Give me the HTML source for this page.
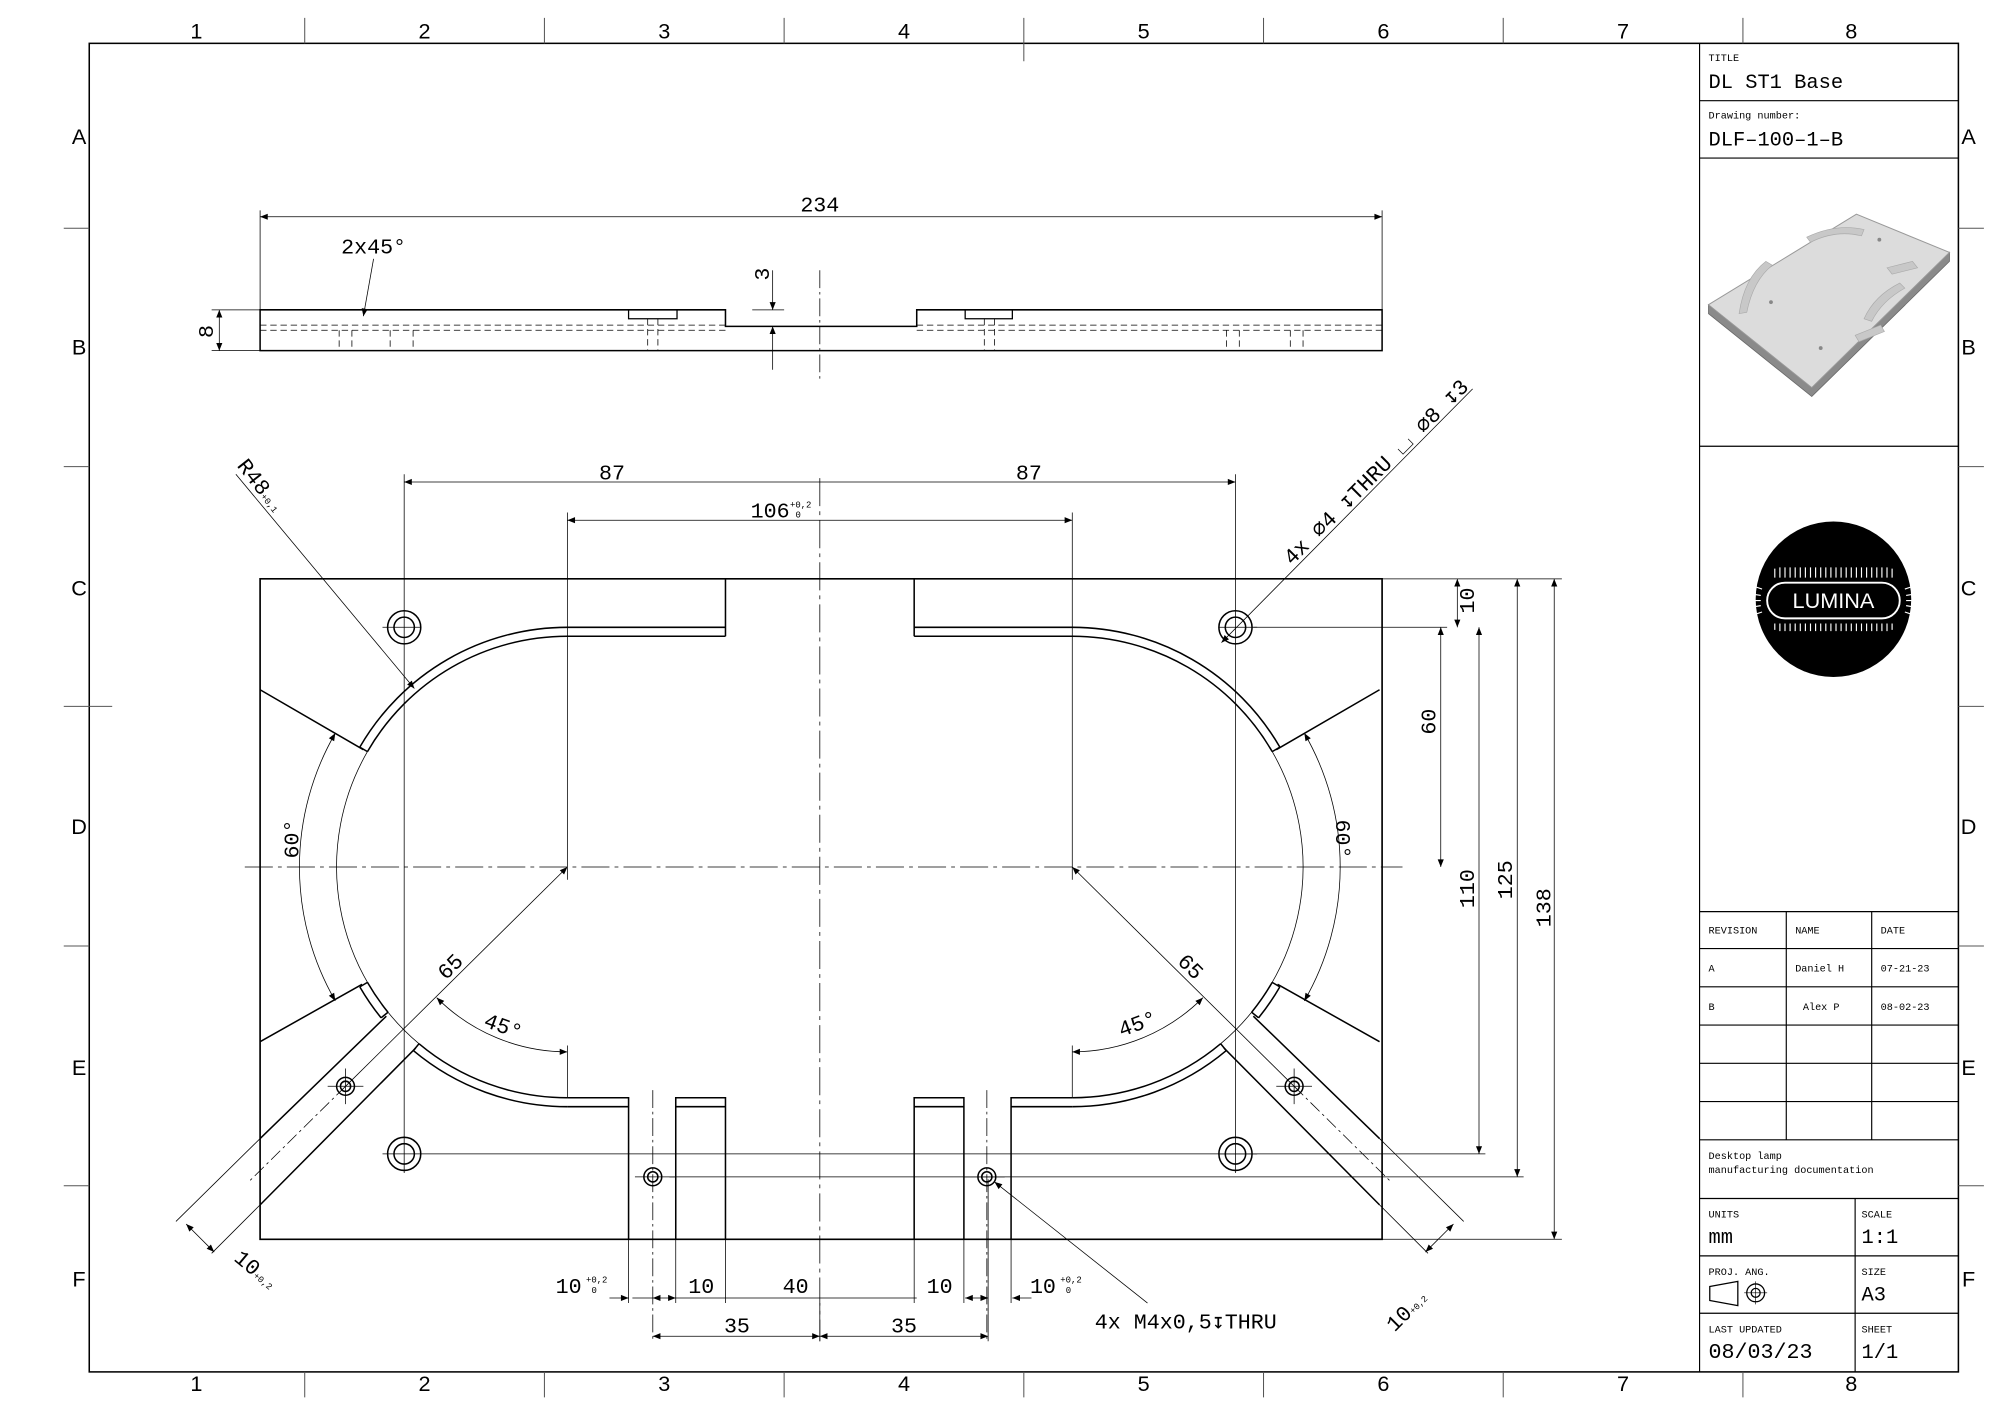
<!DOCTYPE html>
<html><head><meta charset="utf-8"><style>html,body{margin:0;padding:0;background:#fff}svg{display:block}</style></head>
<body>
<svg width="1999" height="1416" viewBox="0 0 1999 1416" xmlns="http://www.w3.org/2000/svg">
<defs>
<marker id="a" viewBox="0 0 10 10" refX="10" refY="5" markerWidth="9" markerHeight="6" orient="auto-start-reverse" markerUnits="userSpaceOnUse"><path d="M0,1 L10,5 L0,9 z" fill="#000"/></marker>
</defs>
<rect width="1999" height="1416" fill="#fff"/>
<g transform="scale(1.275)" fill="none" stroke="#000" font-family="Liberation Mono, monospace">
<!-- frame -->
<rect x="70" y="34" width="1466" height="1042" stroke-width="1.2"/>
<g stroke-width="0.8" stroke="#555">
<path d="M239,14V34M427,14V34M615,14V34M803,14V48M991,14V34M1179,14V34M1367,14V34"/>
<path d="M239,1076V1096M427,1076V1096M615,1076V1096M803,1076V1096M991,1076V1096M1179,1076V1096M1367,1076V1096"/>
<path d="M50,179H70M50,366H70M50,554H88M50,742H70M50,930H70"/>
<path d="M1536,179H1556M1536,366H1556M1536,554H1556M1536,742H1556M1536,930H1556"/>
</g>
<g font-family="Liberation Sans, sans-serif" font-size="17" fill="#000" stroke="none" text-anchor="middle">
<text x="154" y="30">1</text><text x="333" y="30">2</text><text x="521" y="30">3</text><text x="709" y="30">4</text><text x="897" y="30">5</text><text x="1085" y="30">6</text><text x="1273" y="30">7</text><text x="1452" y="30">8</text>
<text x="154" y="1091">1</text><text x="333" y="1091">2</text><text x="521" y="1091">3</text><text x="709" y="1091">4</text><text x="897" y="1091">5</text><text x="1085" y="1091">6</text><text x="1273" y="1091">7</text><text x="1452" y="1091">8</text>
<text x="62" y="113">A</text><text x="62" y="278">B</text><text x="62" y="467">C</text><text x="62" y="654">D</text><text x="62" y="843">E</text><text x="62" y="1009">F</text>
<text x="1544" y="113">A</text><text x="1544" y="278">B</text><text x="1544" y="467">C</text><text x="1544" y="654">D</text><text x="1544" y="843">E</text><text x="1544" y="1009">F</text>
</g>

<!-- title block -->
<g stroke-width="0.9">
<path d="M1333,34V1076M1333,79H1536M1333,124H1536M1333,350H1536M1333,715H1536M1333,744H1536M1333,774H1536M1333,804H1536M1333,834H1536M1333,864H1536M1333,894H1536M1333,940H1536M1333,985H1536M1333,1030H1536M1401,715V894M1468,715V894M1455,940V1076"/>
</g>
<g fill="#000" stroke="none">
<text x="1340" y="48" font-size="8">TITLE</text>
<text x="1340" y="69" font-size="16">DL ST1 Base</text>
<text x="1340" y="93" font-size="8">Drawing number:</text>
<text x="1340" y="114" font-size="16">DLF–100–1–B</text>
<text x="1340" y="732" font-size="8">REVISION</text><text x="1408" y="732" font-size="8">NAME</text><text x="1475" y="732" font-size="8">DATE</text>
<text x="1340" y="762" font-size="8">A</text><text x="1408" y="762" font-size="8">Daniel H</text><text x="1475" y="762" font-size="8">07-21-23</text>
<text x="1340" y="792" font-size="8">B</text><text x="1414" y="792" font-size="8">Alex P</text><text x="1475" y="792" font-size="8">08-02-23</text>
<text x="1340" y="909" font-size="8">Desktop lamp</text><text x="1340" y="920" font-size="8">manufacturing documentation</text>
<text x="1340" y="955" font-size="8">UNITS</text><text x="1340" y="975" font-size="16">mm</text>
<text x="1460" y="955" font-size="8">SCALE</text><text x="1460" y="975" font-size="16">1:1</text>
<text x="1340" y="1000" font-size="8">PROJ. ANG.</text>
<text x="1460" y="1000" font-size="8">SIZE</text><text x="1460" y="1020" font-size="16">A3</text>
<text x="1340" y="1045" font-size="8">LAST UPDATED</text><text x="1340" y="1065" font-size="17">08/03/23</text>
<text x="1460" y="1045" font-size="8">SHEET</text><text x="1460" y="1065" font-size="16">1/1</text>
</g>
<g stroke-width="1"><path d="M1341,1009L1363,1005V1024L1341,1020Z"/><circle cx="1377" cy="1014" r="7"/><circle cx="1377" cy="1014" r="3.5"/><path d="M1368,1014H1386M1377,1005V1023" stroke-width="0.5"/></g>

<!-- thumbnail -->
<path d="M1340,239L1340,246L1421,311L1529,205L1529,198L1421,304Z" fill="#8a8a8a" stroke="#666" stroke-width="0.6"/>
<path d="M1340,239L1456,168L1529,198L1421,304Z" fill="#dcdcdc" stroke="#999" stroke-width="0.8"/>
<path d="M1370,245Q1375,220 1390,208L1385,205Q1368,218 1364,246Z M1420,190Q1440,180 1460,185L1462,180Q1440,175 1417,186Z M1462,250Q1470,232 1490,222L1494,226Q1476,236 1468,252Z M1480,210L1500,205L1504,210L1484,215Z M1455,263L1475,255L1478,260L1458,268Z" fill="#c8c8c8" stroke="#aaa" stroke-width="0.5"/>
<circle cx="1389" cy="237" r="1.5" fill="#888" stroke="none"/><circle cx="1474" cy="188" r="1.5" fill="#888" stroke="none"/><circle cx="1428" cy="273" r="1.5" fill="#888" stroke="none"/>

<!-- logo -->
<ellipse cx="1438" cy="470" rx="61" ry="61" fill="#000" stroke="none"/>
<rect x="1386" y="457" width="104" height="28" rx="14" stroke="#fff" stroke-width="1.5"/>
<g stroke="#fff" stroke-width="0.9">
<path d="M1392,453V446M1396,453V445M1400,453V445M1404,453V445M1408,453V445M1412,453V445M1416,453V445M1420,453V445M1424,453V445M1428,453V445M1432,453V445M1436,453V445M1440,453V445M1444,453V445M1448,453V445M1452,453V445M1456,453V445M1460,453V445M1464,453V445M1468,453V445M1472,453V445M1476,453V445M1480,453V445M1484,453V446"/>
<path d="M1392,489V494M1396,489V495M1400,489V495M1404,489V495M1408,489V495M1412,489V495M1416,489V495M1420,489V495M1424,489V495M1428,489V495M1432,489V495M1436,489V495M1440,489V495M1444,489V495M1448,489V495M1452,489V495M1456,489V495M1460,489V495M1464,489V495M1468,489V495M1472,489V495M1476,489V495M1480,489V495M1484,489V494"/>
<path d="M1382,462L1376,460M1381,467L1375,466M1381,471H1375M1381,475L1375,476M1382,480L1376,482M1494,462L1500,460M1495,467L1501,466M1495,471H1501M1495,475L1501,476M1494,480L1500,482"/>
</g>
<text x="1438" y="477" font-family="Liberation Sans, sans-serif" font-size="17" fill="#fff" stroke="none" text-anchor="middle">LUMINA</text>

<!-- TOP (side) VIEW -->
<path d="M204,243H569V256H719V243H1084V275H204Z" stroke-width="1.2"/>
<path d="M493,243V250H531V243M757,243V250H794V243" stroke-width="1"/>
<g stroke-width="0.6" stroke-dasharray="5,3">
<path d="M204,255H569M719,255H1084M204,259H569M719,259H1084"/>
<path d="M266,259V275M276,259V275M306,259V275M324,259V275M508,250V275M516,250V275M772,250V275M780,250V275M962,259V275M972,259V275M1012,259V275M1022,259V275"/>
</g>
<path d="M643,212V300" stroke-width="0.6" stroke-dasharray="14,3,2,3"/>
<g stroke-width="0.6">
<path d="M204,165V243M1084,165V243"/>
<path d="M204,170H1084" marker-start="url(#a)" marker-end="url(#a)"/>
<path d="M166,243H204M166,275H204"/>
<path d="M172,243V275" marker-start="url(#a)" marker-end="url(#a)"/>
<path d="M590,243H615M590,256H615"/>
<path d="M606,212V243" marker-end="url(#a)"/><path d="M606,290V256" marker-end="url(#a)"/>
<path d="M293,203L285,248" marker-end="url(#a)"/>
</g>
<g fill="#000" stroke="none" font-size="17" text-anchor="middle">
<text x="643" y="166">234</text>
<text x="293" y="199">2x45°</text>
<text transform="translate(167,260) rotate(-90)">8</text>
<text transform="translate(603,215) rotate(-90)">3</text>
</g>

<!-- MAIN VIEW -->
<path d="M204,454H1084V972H204Z" stroke-width="1.3"/>
<g id="half" stroke-width="1.2">
<path d="M569,454V499M445,492H569M445,499H569"/>
<path d="M445,492A188,188 0 0 0 282.2,586M445,499A181,181 0 0 0 288.2,589.5M282.2,586L288.2,589.5"/>
<path d="M288.2,589.5A181,181 0 0 0 328.6,818.6" stroke-width="0.6"/>
<path d="M282.2,774A188,188 0 0 0 298.9,798.3M288.2,770.5A181,181 0 0 0 304.3,793.9M282.2,774L288.2,770.5M298.9,798.3L304.3,793.9"/>
<path d="M324.2,824A188,188 0 0 0 445,868M328.6,818.6A181,181 0 0 0 445,861M324.2,824L328.6,818.6"/>
<path d="M445,861H493V972M445,868H493M530,972V861H569V972M530,868H569"/>
<path d="M204,541L285,588M204,817L284,772M204,893L303,797M204,945L326,822"/>
<circle cx="317" cy="492" r="13"/><circle cx="317" cy="492" r="8"/>
<circle cx="317" cy="905" r="13"/><circle cx="317" cy="905" r="8"/>
<circle cx="271" cy="852" r="7"/><circle cx="271" cy="852" r="4"/>
<circle cx="512" cy="923" r="7"/><circle cx="512" cy="923" r="4"/>
<g stroke-width="0.6">
<path d="M257,852H285M271,838V866M300,492H330M300,905H330M498,923H530"/>
<path d="M317,372V920"/>
<path d="M445,402V690"/>
<path d="M445,820V861"/>
<path d="M263,575A210,210 0 0 0 263,785" marker-start="url(#a)" marker-end="url(#a)"/>
<path d="M342.5,782.5A145,145 0 0 0 445,825" marker-start="url(#a)" marker-end="url(#a)"/>
<path d="M271,852L445,680" marker-end="url(#a)"/>
<path d="M271,852L196,926" stroke-dasharray="10,3,2,3"/>
<path d="M204,893L138,958M204,945L166,983"/>
<path d="M146,960L168,982" marker-start="url(#a)" marker-end="url(#a)"/>
<path d="M512,855V1052" stroke-dasharray="14,3,2,3"/>
<path d="M493,972V1022M530,972V1022M569,972V1022"/>
</g>
</g>
<use href="#half" transform="translate(1286,0) scale(-1,1)"/>

<g stroke-width="0.6" stroke-dasharray="22,4,3,4">
<path d="M643,375V1052"/>
<path d="M192,680H1100"/>
</g>
<g stroke-width="0.6">
<path d="M643,378H317" marker-end="url(#a)"/><path d="M643,378H969" marker-end="url(#a)"/>
<path d="M445,408H841" marker-start="url(#a)" marker-end="url(#a)"/>
<path d="M330,905H1165M525,923H1195M1084,454H1225M983,492H1135M1084,972H1225"/>
<path d="M1143,454V492" marker-start="url(#a)" marker-end="url(#a)"/>
<path d="M1130,492V680" marker-start="url(#a)" marker-end="url(#a)"/>
<path d="M1160,492V905" marker-start="url(#a)" marker-end="url(#a)"/>
<path d="M1190,454V923" marker-start="url(#a)" marker-end="url(#a)"/>
<path d="M1219,454V972" marker-start="url(#a)" marker-end="url(#a)"/>
<path d="M512,1018H530" marker-start="url(#a)" marker-end="url(#a)"/>
<path d="M757,1018H775" marker-start="url(#a)" marker-end="url(#a)"/>
<path d="M569,1018H643M719,1018H643"/>
<path d="M478,1018H493" marker-end="url(#a)"/><path d="M809,1018H794" marker-end="url(#a)"/>
<path d="M512,1018L496,1018M530,1018H569" />
<path d="M512,1048H643" marker-start="url(#a)" marker-end="url(#a)"/>
<path d="M643,1048H775" marker-start="url(#a)" marker-end="url(#a)"/>
<path d="M643,1022V1052M775,925V1052"/>
<path d="M185,372L325,540" marker-end="url(#a)"/>
<path d="M1155,305L958,504" marker-end="url(#a)"/>
<path d="M900,1022L780,927" marker-end="url(#a)"/>
</g>
<g fill="#000" stroke="none" font-size="17" text-anchor="middle">
<text x="480" y="376">87</text>
<text x="807" y="376">87</text>
<text x="604" y="406">106</text><text x="628" y="398" font-size="7">+0,2</text><text x="626" y="406" font-size="7">0</text>
<text transform="translate(1156,471) rotate(-90)">10</text>
<text transform="translate(1126,566) rotate(-90)">60</text>
<text transform="translate(1156,697) rotate(-90)">110</text>
<text transform="translate(1186,690) rotate(-90)">125</text>
<text transform="translate(1216,712) rotate(-90)">138</text>
<text transform="translate(234,658) rotate(-90)">60°</text>
<text transform="translate(1048,658) rotate(90)">60°</text>
<text transform="translate(357,762) rotate(-45)">65</text>
<text transform="translate(930,762) rotate(45)">65</text>
<text transform="translate(393,810) rotate(20)">45°</text>
<text transform="translate(894,808) rotate(-20)">45°</text>
<text x="446" y="1014">10</text><text x="468" y="1006" font-size="7">+0,2</text><text x="466" y="1014" font-size="7">0</text>
<text x="550" y="1014">10</text>
<text x="624" y="1014">40</text>
<text x="737" y="1014">10</text>
<text x="818" y="1014">10</text><text x="840" y="1006" font-size="7">+0,2</text><text x="838" y="1014" font-size="7">0</text>
<text x="578" y="1045">35</text>
<text x="709" y="1045">35</text>
<text x="930" y="1042">4x M4x0,5↧THRU</text>
<text transform="translate(200,384) rotate(52)">R48<tspan font-size="7">+0,1</tspan></text>
<text transform="translate(1083,374) rotate(-45)">4x ⌀4 ↧THRU ⌴ ⌀8 ↧3</text>
<text transform="translate(197,1000) rotate(40)">10<tspan font-size="7">+0,2</tspan></text>
<text transform="translate(1107,1032) rotate(-45)">10<tspan font-size="7">+0,2</tspan></text>
</g>
</g>
</svg>
</body></html>
